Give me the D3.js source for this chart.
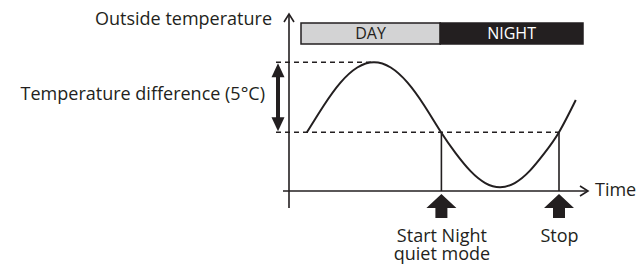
<!DOCTYPE html>
<html>
<head>
<meta charset="utf-8">
<script src="https://cdn.jsdelivr.net/npm/d3@7"></script>
<style>
  html, body { margin: 0; padding: 0; background: #fff; }
  svg { display: block; font-family: "Open Sans", "Noto Sans", sans-serif; }
</style>
</head>
<body>
<svg id="chart" width="640" height="271"></svg>
<script>
// outside temperature over one day, night quiet mode diagram

// curve samples (hour, deg C)
let hours = [1.5, 2.9, 4.29, 5.69, 7.08, 8.48, 9.88, 11.27, 12.67, 13.9, 15.13, 16.36, 17.59, 18.81, 20.04, 21.27, 22.5, 23.9];
let temps = [4.2, 6.11, 7.74, 8.82, 9.2, 8.82, 7.74, 6.11, 4.2, 2.69, 1.42, 0.57, 0.27, 0.57, 1.42, 2.69, 4.2, 6.5];

// day / night bar
let phaseNames = ["DAY", "NIGHT"];
let phaseStart = [1.0, 12.6];
let phaseEnd = [12.6, 24.5];

// levels for the 5 degree difference
let tempHigh = 9.2;
let tempLow = 4.2;

// events marked with arrows
let eventNames = [["Start Night", "quiet mode"], ["Stop"]];
let eventHours = [12.7, 22.5];

let svg = d3.select("#chart");

let x = d3.scaleLinear().domain([0, 25]).range([289, 589]);
let y = d3.scaleLinear().domain([0, 12.5]).range([191, 16]);

let ink = "#231f20";
let fontSize = 18;

// dashed reference lines
svg.append("line")
    .attr("x1", 276).attr("x2", x(7.08))
    .attr("y1", y(tempHigh)).attr("y2", y(tempHigh))
    .attr("stroke", ink).attr("stroke-width", 1.5)
    .attr("stroke-dasharray", "5,4");
svg.append("line")
    .attr("x1", 276).attr("x2", x(eventHours[1]))
    .attr("y1", y(tempLow)).attr("y2", y(tempLow))
    .attr("stroke", ink).attr("stroke-width", 1.5)
    .attr("stroke-dasharray", "5,4");

// vertical event lines
svg.selectAll(".evline")
    .data(eventHours)
    .enter()
    .append("line")
    .attr("class", "evline")
    .attr("x1", function (d) { return x(d); })
    .attr("x2", function (d) { return x(d); })
    .attr("y1", y(tempLow))
    .attr("y2", y(0))
    .attr("stroke", ink)
    .attr("stroke-width", 1.6);

// axes
svg.append("line")
    .attr("x1", x(0)).attr("x2", x(0))
    .attr("y1", 208).attr("y2", 14)
    .attr("stroke", ink).attr("stroke-width", 1.6);
svg.append("line")
    .attr("x1", 283).attr("x2", 588)
    .attr("y1", y(0)).attr("y2", y(0))
    .attr("stroke", ink).attr("stroke-width", 1.6);
// open arrow heads
svg.append("path")
    .attr("d", "M" + (x(0) - 5) + ",22 L" + x(0) + ",14 L" + (x(0) + 5) + ",22")
    .attr("fill", "none").attr("stroke", ink).attr("stroke-width", 1.6);
svg.append("path")
    .attr("d", "M580," + (y(0) - 5) + " L588," + y(0) + " L580," + (y(0) + 5))
    .attr("fill", "none").attr("stroke", ink).attr("stroke-width", 1.6);

// temperature curve
let curveData = hours.map(function (h, i) { return { h: h, t: temps[i] }; });
svg.append("path")
    .datum(curveData)
    .attr("d", d3.line()
        .x(function (d) { return x(d.h); })
        .y(function (d) { return y(d.t); })
        .curve(d3.curveNatural))
    .attr("fill", "none")
    .attr("stroke", ink)
    .attr("stroke-width", 2);

// day / night bar
svg.selectAll(".phase")
    .data(phaseNames)
    .enter()
    .append("rect")
    .attr("class", "phase")
    .attr("x", function (d, i) { return x(phaseStart[i]); })
    .attr("y", 23)
    .attr("width", function (d, i) { return x(phaseEnd[i]) - x(phaseStart[i]); })
    .attr("height", 21)
    .attr("fill", function (d, i) { return i === 0 ? "#d3d3d4" : ink; })
    .attr("stroke", ink)
    .attr("stroke-width", 1.5);
svg.selectAll(".phaseLabel")
    .data(phaseNames)
    .enter()
    .append("text")
    .attr("x", function (d, i) { return (x(phaseStart[i]) + x(phaseEnd[i])) / 2; })
    .attr("y", 39)
    .attr("text-anchor", "middle")
    .attr("font-size", 16)
    .attr("fill", function (d, i) { return i === 0 ? ink : "#fff"; })
    .text(function (d) { return d; });

// double arrow for the temperature difference
let ax = 278, y1 = y(tempHigh), y2 = y(tempLow);
svg.append("line")
    .attr("x1", ax).attr("x2", ax)
    .attr("y1", y1 + 10).attr("y2", y2 - 10)
    .attr("stroke", ink).attr("stroke-width", 4);
svg.append("path")
    .attr("d", "M" + ax + "," + (y1 + 1) + " L" + (ax + 6.5) + "," + (y1 + 15) + " L" + (ax - 6.5) + "," + (y1 + 15) + "Z")
    .attr("fill", ink);
svg.append("path")
    .attr("d", "M" + ax + "," + (y2 - 1) + " L" + (ax + 6.5) + "," + (y2 - 15) + " L" + (ax - 6.5) + "," + (y2 - 15) + "Z")
    .attr("fill", ink);

// thick up arrows under the events
svg.selectAll(".evarrow")
    .data(eventHours)
    .enter()
    .append("path")
    .attr("class", "evarrow")
    .attr("d", function (d) {
        let cx = x(d);
        return "M" + cx + ",194 L" + (cx + 15) + ",208 L" + (cx + 6) + ",208 L" + (cx + 6) + ",218"
            + " L" + (cx - 6) + ",218 L" + (cx - 6) + ",208 L" + (cx - 15) + ",208 Z";
    })
    .attr("fill", ink);

// labels
svg.append("text")
    .attr("x", 272).attr("y", 25)
    .attr("text-anchor", "end")
    .attr("font-size", fontSize)
    .attr("fill", ink)
    .text("Outside temperature");
svg.append("text")
    .attr("x", 265).attr("y", 100)
    .attr("text-anchor", "end")
    .attr("font-size", fontSize)
    .attr("fill", ink)
    .text("Temperature difference (5°C)");
svg.append("text")
    .attr("x", 595).attr("y", 196)
    .attr("font-size", fontSize)
    .attr("fill", ink)
    .text("Time");

// event labels, one text per line
eventNames.forEach(function (lines, i) {
    svg.selectAll(null)
        .data(lines)
        .enter()
        .append("text")
        .attr("x", x(eventHours[i]) + 0.5)
        .attr("y", function (d, j) { return 242 + j * 18; })
        .attr("text-anchor", "middle")
        .attr("font-size", fontSize)
        .attr("fill", ink)
        .text(function (d) { return d; });
});
</script>
</body>
</html>
